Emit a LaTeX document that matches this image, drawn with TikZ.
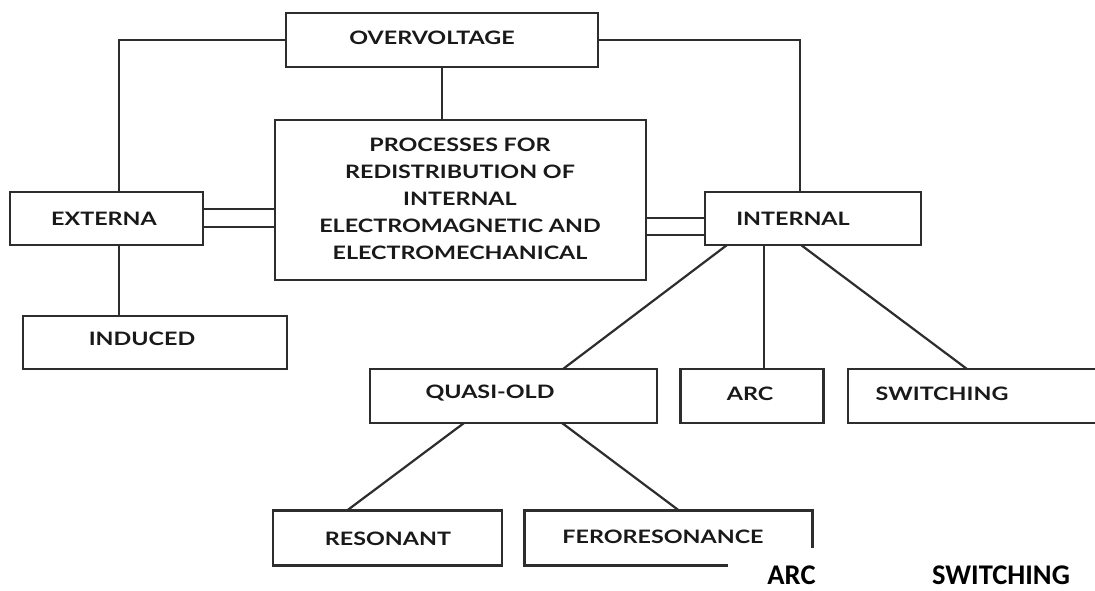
\documentclass[tikz,border=0pt]{standalone}
\usepackage{fontspec}
\setmainfont{Lato}[FakeStretch=1.26]
\newfontfamily\carl{Carlito}
\definecolor{ln}{RGB}{45,45,45}
\definecolor{tx}{RGB}{25,25,25}
\tikzset{
  box/.style={draw=ln, line width=2.2pt, rectangle, inner sep=0pt},
  lbl/.style={text=tx, font=\fontsize{18.5}{27}\selectfont\bfseries, inner sep=0pt, align=center},
  conn/.style={draw=ln, line width=2.2pt},
  bot/.style={text=black, font=\fontsize{28.5}{30}\selectfont\carl\bfseries, inner sep=0pt, anchor=base}
}
\begin{document}
\begin{tikzpicture}[x=1pt,y=-1pt]
\useasboundingbox (0,0) rectangle (1095,590);
\clip (0,0) rectangle (1095,590);
\fill[white] (0,0) rectangle (1095,590);
% boxes
\node[box, minimum width=312pt, minimum height=54pt] (over) at (442,40) {};
\node[box, minimum width=371pt, minimum height=160pt] (proc) at (460.5,200) {};
\node[box, minimum width=193pt, minimum height=53pt] (exter) at (106.5,218.5) {};
\node[box, minimum width=264pt, minimum height=53pt] (induced) at (155,342.5) {};
\node[box, minimum width=216pt, minimum height=53pt] (internal) at (813,218.5) {};
\node[box, minimum width=287pt, minimum height=54pt] (quasi) at (513.5,396) {};
\node[box, minimum width=143pt, minimum height=54pt] (arc) at (752,396) {};
\node[box, minimum width=280pt, minimum height=54pt] (switch) at (988,396) {};
\node[box, minimum width=229pt, minimum height=55pt] (reson) at (387.5,538) {};
\node[box, minimum width=288pt, minimum height=55pt] (fero) at (668.5,538) {};
% labels
\node[lbl] (tover) at (432,38) {OVERVOLTAGE};
\node[lbl] (tproc) at (460,198.5) {PROCESSES FOR\\REDISTRIBUTION OF\\INTERNAL\\ELECTROMAGNETIC AND\\ELECTROMECHANICAL};
\node[lbl] (texter) at (104,218.5) {EXTERNA};
\node[lbl] (tinduced) at (142,338.5) {INDUCED};
\node[lbl] (tinternal) at (793,218.5) {INTERNAL};
\node[lbl] (tquasi) at (490,393.5) {QUASI-OLD};
\node[lbl] (tarc) at (750,393.5) {ARC};
\node[lbl] (tswitch) at (942,393.5) {SWITCHING};
\node[lbl] (treson) at (388,538.5) {RESONANT};
\node[lbl] (tfero) at (663,537) {FERORESONANCE};
% connectors
\draw[conn] (over.west) -| ([xshift=12.5pt]exter.north);
\draw[conn] (over.east) -| ([xshift=-13pt]internal.north);
\draw[conn] (over.south) -- (over.south |- proc.north);
\draw[conn] ([yshift=9.5pt]exter.east) -- ([yshift=9.5pt]exter.east -| proc.west);
\draw[conn] ([yshift=-8.5pt]exter.east) -- ([yshift=-8.5pt]exter.east -| proc.west);
\draw[conn] ([yshift=0.5pt]internal.west) -- ([yshift=0.5pt]internal.west -| proc.east);
\draw[conn] ([yshift=-16.5pt]internal.west) -- ([yshift=-16.5pt]internal.west -| proc.east);
\draw[conn] ([xshift=12.5pt]exter.south) -- ([xshift=12.5pt]exter.south |- induced.north);
\coordinate (iq) at (727,245);
\coordinate (ia) at (764,245);
\coordinate (is) at (801,245);
\coordinate (sq) at (563,369);
\coordinate (ss) at (967,369);
\draw[conn] (iq) -- (sq);
\draw[conn] (ia) -- (ia |- arc.north);
\draw[conn] (is) -- (ss);
\coordinate (qr) at (464,423);
\coordinate (qf) at (562,423);
\coordinate (rq) at (347,510.5);
\coordinate (fq) at (679,510.5);
\draw[conn] (qr) -- (rq);
\draw[conn] (qf) -- (fq);
% white overlay with bottom labels
\fill[white] (728,548) rectangle (1095,590);
\node[bot] (barc) at (791.5,584) {ARC};
\node[bot] (bswitch) at (1001,584) {SWITCHING};
\end{tikzpicture}
\end{document}
